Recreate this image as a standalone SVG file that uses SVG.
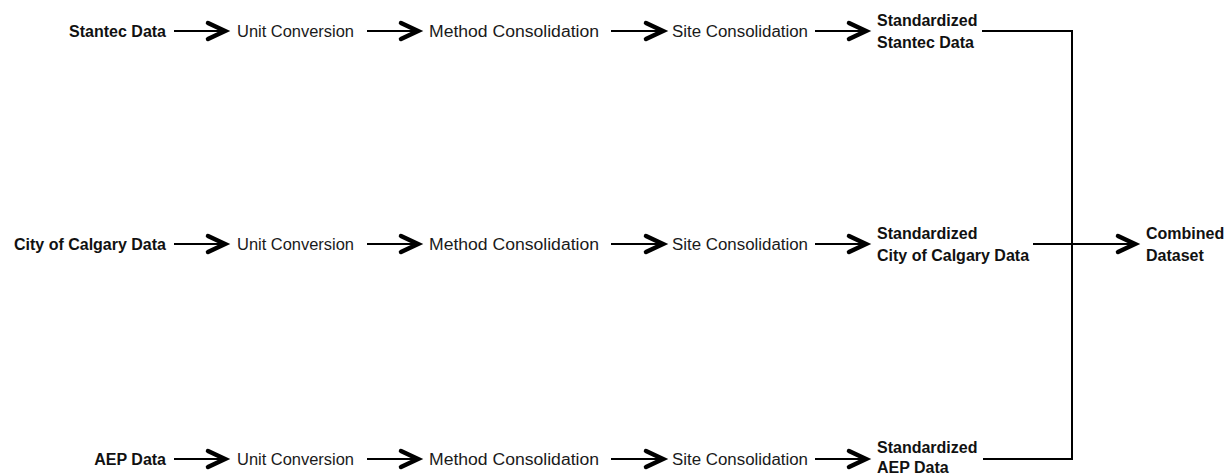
<svg xmlns="http://www.w3.org/2000/svg" width="1226" height="474" viewBox="0 0 1226 474">
  <style>
    .b { font-family: "Liberation Sans", Arial, sans-serif; font-weight: bold; font-size: 16px; fill: #111; }
    .r { font-family: "Liberation Sans", Arial, sans-serif; font-size: 16px; fill: #1a1a1a; }
    .c { fill: none; stroke: #000; stroke-width: 2; }
    .a { marker-end: url(#chev); }
  </style>
  <defs>
    <marker id="chev" markerUnits="userSpaceOnUse" viewBox="-24 -14 28 28" markerWidth="28" markerHeight="28" refX="0" refY="0" orient="auto" overflow="visible">
      <path d="M -17 -8 L 0 0 L -17 8" fill="none" stroke="#000" stroke-width="4.5" stroke-linejoin="miter" stroke-miterlimit="3" stroke-linecap="round"/>
    </marker>
  </defs>
  <rect width="1226" height="474" fill="#fff"/>

  <g id="connectors">
    <line class="c a" x1="174" y1="31" x2="225" y2="31"/>
    <line class="c a" x1="367" y1="31" x2="418" y2="31"/>
    <line class="c a" x1="611" y1="31" x2="663" y2="31"/>
    <line class="c a" x1="815" y1="31" x2="866" y2="31"/>

    <line class="c a" x1="174" y1="244" x2="225" y2="244"/>
    <line class="c a" x1="367" y1="244" x2="418" y2="244"/>
    <line class="c a" x1="611" y1="244" x2="663" y2="244"/>
    <line class="c a" x1="815" y1="244" x2="866" y2="244"/>

    <line class="c a" x1="174" y1="459" x2="225" y2="459"/>
    <line class="c a" x1="367" y1="459" x2="418" y2="459"/>
    <line class="c a" x1="611" y1="459" x2="663" y2="459"/>
    <line class="c a" x1="815" y1="459" x2="866" y2="459"/>

    <polyline class="c" points="982,31 1072,31 1072,459 983,459"/>
    <line class="c a" x1="1033" y1="244" x2="1135" y2="244"/>
  </g>

  <!-- Row 1 -->
  <g id="stantec-data"><text class="b" x="166" y="36.5" text-anchor="end">Stantec Data</text></g>
  <g id="unit-conversion-1"><text class="r" x="237" y="36.5" textLength="117" lengthAdjust="spacingAndGlyphs">Unit Conversion</text></g>
  <g id="method-consolidation-1"><text class="r" x="429" y="36.5" textLength="170" lengthAdjust="spacingAndGlyphs">Method Consolidation</text></g>
  <g id="site-consolidation-1"><text class="r" x="672" y="36.5" textLength="136" lengthAdjust="spacingAndGlyphs">Site Consolidation</text></g>
  <g id="standardized-stantec"><text class="b" x="877" y="26">Standardized</text><text class="b" x="877" y="47.5">Stantec Data</text></g>

  <!-- Row 2 -->
  <g id="calgary-data"><text class="b" x="166" y="249.5" text-anchor="end">City of Calgary Data</text></g>
  <g id="unit-conversion-2"><text class="r" x="237" y="249.5" textLength="117" lengthAdjust="spacingAndGlyphs">Unit Conversion</text></g>
  <g id="method-consolidation-2"><text class="r" x="429" y="249.5" textLength="170" lengthAdjust="spacingAndGlyphs">Method Consolidation</text></g>
  <g id="site-consolidation-2"><text class="r" x="672" y="249.5" textLength="136" lengthAdjust="spacingAndGlyphs">Site Consolidation</text></g>
  <g id="standardized-calgary"><text class="b" x="877" y="238.5">Standardized</text><text class="b" x="877" y="260.5">City of Calgary Data</text></g>

  <!-- Row 3 -->
  <g id="aep-data"><text class="b" x="166" y="464.5" text-anchor="end">AEP Data</text></g>
  <g id="unit-conversion-3"><text class="r" x="237" y="464.5" textLength="117" lengthAdjust="spacingAndGlyphs">Unit Conversion</text></g>
  <g id="method-consolidation-3"><text class="r" x="429" y="464.5" textLength="170" lengthAdjust="spacingAndGlyphs">Method Consolidation</text></g>
  <g id="site-consolidation-3"><text class="r" x="672" y="464.5" textLength="136" lengthAdjust="spacingAndGlyphs">Site Consolidation</text></g>
  <g id="standardized-aep"><text class="b" x="877" y="452.5">Standardized</text><text class="b" x="877" y="472.5">AEP Data</text></g>

  <!-- Combined -->
  <g id="combined-dataset"><text class="b" x="1146" y="238.5">Combined</text><text class="b" x="1146" y="260.5">Dataset</text></g>
</svg>
